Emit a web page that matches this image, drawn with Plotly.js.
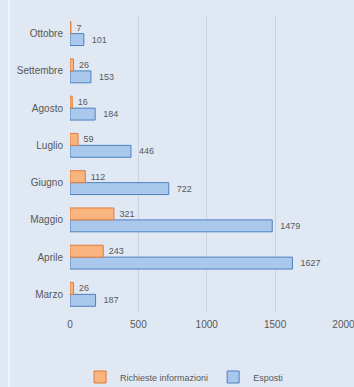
<!DOCTYPE html>
<html><head><meta charset="utf-8">
<script src="https://cdn.plot.ly/plotly-3.0.1.min.js"></script>
<style>html,body{margin:0;padding:0;background:#dfe8f3;}</style>
</head><body><div id="chart" style="width:354px;height:387px;"></div>
<script>
const months = ["Marzo","Aprile","Maggio","Giugno","Luglio","Agosto","Settembre","Ottobre"];
const richieste = [26,243,321,112,59,16,26,7];
const esposti = [187,1627,1479,722,446,184,153,101];
const xTicks = [0,500,1000,1500,2000];

const axisFont = {family:"Liberation Sans, Arial, sans-serif", size:10, color:"#595959"};
const valFont = {family:"Liberation Sans, Arial, sans-serif", size:9, color:"#595959"};
const legFont = {family:"Liberation Sans, Arial, sans-serif", size:9, color:"#595959"};
const traces = [
  {type:"bar", orientation:"h", name:"Esposti", y:months, x:esposti,
   texttemplate:"\u00a0\u00a0%{x}", textposition:"outside", cliponaxis:false,
   textfont:valFont,
   marker:{color:"#a9c8ec", line:{color:"#4f81bd", width:1}}},
  {type:"bar", orientation:"h", name:"Richieste informazioni", y:months, x:richieste,
   texttemplate:"\u00a0%{x}", textposition:"outside", cliponaxis:false,
   textfont:valFont,
   marker:{color:"#f9b47f", line:{color:"#e07b39", width:1}}}
];
const layout = {
  width:354, height:387,
  paper_bgcolor:"#dfe8f3", plot_bgcolor:"#dfe8f3",
  margin:{l:70, r:10, t:15, b:74, autoexpand:false},
  barmode:"group", bargap:0.36, bargroupgap:0,
  font:axisFont,
  showlegend:true,
  legend:{orientation:"h", traceorder:"reversed", itemwidth:30, x:0.52, xref:"container", xanchor:"center",
          y:10/387, yref:"container", yanchor:"middle", font:legFont, bgcolor:"rgba(0,0,0,0)"},
  xaxis:{range:[0,2004], tickvals:xTicks, ticktext:xTicks.map(String), ticklabeloverflow:"allow", showgrid:true, gridcolor:"#c9d4e2", gridwidth:1, zeroline:false, showline:false, ticks:"", ticklabelstandoff:4, tickfont:axisFont},
  yaxis:{type:"category", categoryarray:months, showgrid:false, zeroline:false, showline:false, ticks:"", ticklabelstandoff:6, tickfont:axisFont},
  shapes:[{type:"line", xref:"paper", yref:"paper", x0:-61/274, x1:-61/274, y0:-74/298, y1:1+15/298, line:{color:"#eef3f9", width:2}}]
};
Plotly.newPlot("chart", traces, layout, {displayModeBar:false, staticPlot:true});
</script></body></html>
